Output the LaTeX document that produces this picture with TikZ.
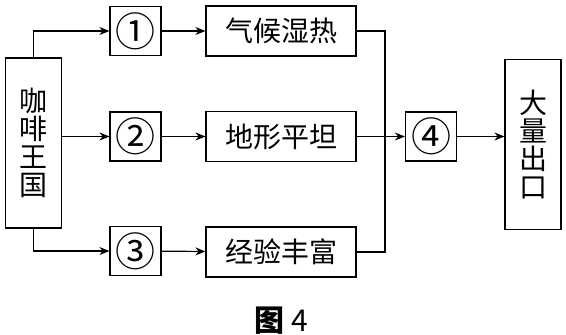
\documentclass[tikz,border=0pt]{standalone}
\usepackage{fontspec}
\setmainfont{Noto Sans CJK SC}
\usetikzlibrary{arrows.meta, positioning}

\begin{document}
\begin{tikzpicture}[x=0.5pt,y=-0.5pt,
  boite/.style={draw, line width=0.6pt, inner sep=0pt, font=\fontsize{14pt}{14pt}\selectfont},
  numero/.style={boite, minimum width=25.5pt, minimum height=24.5pt, font=\fontsize{20pt}{20pt}\selectfont},
  texte/.style={boite, minimum width=75pt, minimum height=25pt},
  colonne/.style={boite, minimum width=28pt, minimum height=85pt, align=center},
  lien/.style={line width=0.6pt},
  fleche/.style={lien, -{Stealth[length=5pt, width=4pt]}}]

\useasboundingbox (0,0) rectangle (566,335);

%% ================= colonne de gauche ======================================
\node[colonne] (pays) at (33.5,143) {咖\\啡\\王\\国};

%% ================= facteurs ===============================================
\node[numero] (n1) at (135.5,31)  {①};
\node[numero] (n2) at (135.5,136.5) {②};
\node[numero] (n3) at (135.5,251) {③};
\node[texte] (climat)  at (281,31)  {气候湿热};
\node[texte] (relief)  at (281,136.5) {地形平坦};
\node[texte] (savoir)  at (281,252) {经验丰富};

%% ================= résultat ===============================================
\node[numero] (n4) at (431,136.5) {④};
\node[colonne] (export) at (533,144.5) {大\\量\\出\\口};
\coordinate (jonction) at (385,136.5);

%% ================= liaisons ===============================================
\draw[fleche] (pays.north) |- (n1);
\draw[fleche] (pays.east |- n2) -- (n2);
\draw[fleche] (pays.south) |- (n3);
\draw[fleche] (n1) -- (climat);
\draw[fleche] (n2) -- (relief);
\draw[fleche] (n3) -- (savoir);
\draw[lien] (climat.east) -| (jonction) |- (savoir.east);
\draw[fleche] (relief) -- (n4);
\draw[fleche] (n4) -- (n4 -| export.west);

%% ================= légende ================================================
\node[font=\fontsize{15pt}{15pt}\selectfont] (titre) at (281,321) {\textbf{图} 4};
\end{tikzpicture}
\end{document}
